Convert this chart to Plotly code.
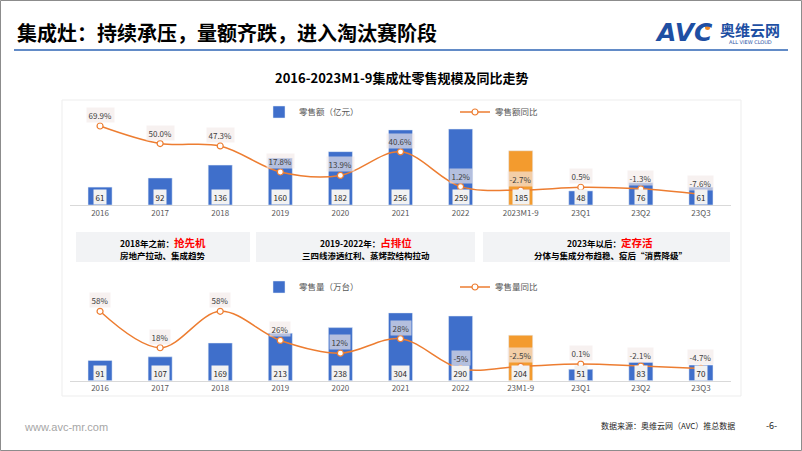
import plotly.graph_objects as go

W, H = 802, 451
def px(x): return x / W
def py(y): return 1 - y / H

# ---------------- data ----------------
cats_top = ['2016', '2017', '2018', '2019', '2020', '2021', '2022', '2023M1-9', '23Q1', '23Q2', '23Q3']
cats_bot = ['2016', '2017', '2018', '2019', '2020', '2021', '2022', '23M1-9', '23Q1', '23Q2', '23Q3']
sales_value = [61, 92, 136, 160, 182, 256, 259, 185, 48, 76, 61]            # 零售额（亿元）
sales_value_yoy = [69.9, 50.0, 47.3, 17.8, 13.9, 40.6, 1.2, -2.7, 0.5, -1.3, -7.6]  # %
sales_volume = [91, 107, 169, 213, 238, 304, 290, 204, 51, 83, 70]          # 零售量（万台）
sales_volume_yoy = [58, 18, 58, 26, 12, 28, -5, -2.5, 0.1, -2.1, -4.7]       # %
sales_volume_yoy_labels = ['58%', '18%', '58%', '26%', '12%', '28%', '-5%', '-2.5%', '0.1%', '-2.1%', '-4.7%']
highlight_idx = 7

stage_heads = ['2018年之前：', '2019-2022年：', '2023年以后：']
stage_keys = ['抢先机', '占排位', '定存活']
stage_notes = ['房地产拉动、集成趋势', '三四线渗透红利、蒸烤款结构拉动', '分体与集成分布趋稳、疫后“消费降级”']

BLUE = '#3F6FCB'
ORANGE_BAR = '#F39B2E'
ORANGE_LINE = '#ED7D31'
FONT = 'Noto Sans CJK SC'

bar_colors = [ORANGE_BAR if i == highlight_idx else BLUE for i in range(len(cats_top))]

fig = go.Figure()

# top chart
fig.add_trace(go.Bar(x=cats_top, y=sales_value, name='零售额（亿元）', marker_color=bar_colors,
                     width=0.4, xaxis='x', yaxis='y', legend='legend', hoverinfo='skip'))
fig.add_trace(go.Scatter(x=cats_top, y=sales_value_yoy, name='零售额同比', mode='lines+markers',
                         line=dict(color=ORANGE_LINE, width=1.5, shape='spline', smoothing=1.0),
                         marker=dict(symbol='circle', size=6, color='white',
                                     line=dict(color=ORANGE_LINE, width=1.2)),
                         xaxis='x', yaxis='y2', legend='legend', cliponaxis=False, hoverinfo='skip'))
# bottom chart
fig.add_trace(go.Bar(x=cats_bot, y=sales_volume, name='零售量（万台）', marker_color=bar_colors,
                     width=0.4, xaxis='x2', yaxis='y3', legend='legend2', hoverinfo='skip'))
fig.add_trace(go.Scatter(x=cats_bot, y=sales_volume_yoy, name='零售量同比', mode='lines+markers',
                         line=dict(color=ORANGE_LINE, width=1.5, shape='spline', smoothing=1.0),
                         marker=dict(symbol='circle', size=6, color='white',
                                     line=dict(color=ORANGE_LINE, width=1.2)),
                         xaxis='x2', yaxis='y4', legend='legend2', cliponaxis=False, hoverinfo='skip'))

annotations = []
# value labels (x given as category index)
for i, v in enumerate(sales_value):
    annotations.append(dict(x=i, y=0, xref='x', yref='y', yshift=8, text=str(v), showarrow=False,
                            font=dict(size=8, color='#262626', family=FONT), bgcolor='#F2F2F2',
                            borderpad=1.5, yanchor='middle'))
for i, v in enumerate(sales_volume):
    annotations.append(dict(x=i, y=0, xref='x2', yref='y3', yshift=8, text=str(v), showarrow=False,
                            font=dict(size=8, color='#262626', family=FONT), bgcolor='#F2F2F2',
                            borderpad=1.5, yanchor='middle'))
# yoy labels
for i, v in enumerate(sales_value_yoy):
    annotations.append(dict(x=i, y=v, xref='x', yref='y2', yshift=11, text=f'{v:.1f}%', showarrow=False,
                            font=dict(size=8, color='#404040', family=FONT),
                            bgcolor='rgba(242,234,232,0.65)', borderpad=1.5, yanchor='middle'))
for i, (v, t) in enumerate(zip(sales_volume_yoy, sales_volume_yoy_labels)):
    annotations.append(dict(x=i, y=v, xref='x2', yref='y4', yshift=11, text=t, showarrow=False,
                            font=dict(size=8, color='#404040', family=FONT),
                            bgcolor='rgba(242,234,232,0.65)', borderpad=1.5, yanchor='middle'))

# stage text boxes
box_x = [(76, 250), (256, 475), (483, 730)]
text_cx = [163, 366, 610]
for (x0, x1), cx, hd, key, note in zip(box_x, text_cx, stage_heads, stage_keys, stage_notes):
    annotations.append(dict(x=px(cx), y=py(242), xref='paper', yref='paper', xanchor='center', yanchor='middle',
                            text=f'<b>{hd}</b><b><span style="color:#FF0000;font-size:10.5px">{key}</span></b>',
                            showarrow=False, font=dict(size=8.5, color='#000000', family=FONT)))
    annotations.append(dict(x=px(cx), y=py(255), xref='paper', yref='paper', xanchor='center', yanchor='middle',
                            text=f'<b>{note}</b>', showarrow=False,
                            font=dict(size=8.5, color='#000000', family=FONT)))

# titles / texts
annotations += [
    dict(x=px(15), y=py(33), xref='paper', yref='paper', xanchor='left', yanchor='middle',
         text='<b>集成灶：持续承压，量额齐跌，进入淘汰赛阶段</b>', showarrow=False,
         font=dict(size=20, color='#000000', family=FONT)),
    dict(x=px(401), y=py(77), xref='paper', yref='paper', xanchor='center', yanchor='middle',
         text='<b>2016-2023M1-9集成灶零售规模及同比走势</b>', showarrow=False,
         font=dict(size=13, color='#000000', family=FONT)),
    # logo
    dict(x=px(684), y=py(33), xref='paper', yref='paper', xanchor='center', yanchor='middle',
         text='<b><i>AVC</i></b>', showarrow=False, font=dict(size=25, color='#1E4FA3', family='DejaVu Sans')),
    dict(x=px(750), y=py(29), xref='paper', yref='paper', xanchor='center', yanchor='middle',
         text='<b>奥维云网</b>', showarrow=False, font=dict(size=15, color='#1E4FA3', family=FONT)),
    dict(x=px(750), y=py(42), xref='paper', yref='paper', xanchor='center', yanchor='middle',
         text='ALL VIEW CLOUD', showarrow=False, font=dict(size=5, color='#1E4FA3', family='DejaVu Sans')),
    # footer
    dict(x=px(22), y=py(427), xref='paper', yref='paper', xanchor='left', yanchor='middle',
         text='www.avc-mr.com', showarrow=False, font=dict(size=11, color='#A6A6A6', family='Liberation Sans')),
    dict(x=px(737), y=py(425), xref='paper', yref='paper', xanchor='right', yanchor='middle',
         text='数据来源：奥维云网（AVC）推总数据', showarrow=False, font=dict(size=8, color='#262626', family=FONT)),
    dict(x=px(771), y=py(425), xref='paper', yref='paper', xanchor='center', yanchor='middle',
         text='-6-', showarrow=False, font=dict(size=9, color='#262626', family=FONT)),
]

shapes = [
    # outer border
    dict(type='rect', xref='paper', yref='paper', x0=px(0.5), x1=px(801.5), y0=py(450.5), y1=py(0.5),
         line=dict(color='#8C8C8C', width=1), fillcolor='rgba(0,0,0,0)', layer='below'),
    # title underline
    dict(type='line', xref='paper', yref='paper', x0=px(14), x1=px(788), y0=py(50), y1=py(50),
         line=dict(color='#2E64B4', width=1.5)),
    # panel
    dict(type='rect', xref='paper', yref='paper', x0=px(62), x1=px(741), y0=py(396), y1=py(100),
         line=dict(color='#EDEDED', width=1), fillcolor='white', layer='below'),
    # orange dot in logo
    dict(type='circle', xref='paper', yref='paper', x0=px(705), x1=px(710), y0=py(30), y1=py(25),
         line=dict(width=0), fillcolor='#F08A24'),
]
for x0, x1 in box_x:
    shapes.append(dict(type='rect', xref='paper', yref='paper', x0=px(x0), x1=px(x1), y0=py(262), y1=py(232),
                       line=dict(width=0), fillcolor='#F2F3F5', layer='below'))

xdom = [px(70), px(731)]
ncat = len(cats_top)
axis_common = dict(type='category', range=[-0.5, ncat - 0.5], showline=True, linecolor='#D9D9D9',
                   linewidth=1, ticks='', showgrid=False, zeroline=False,
                   tickfont=dict(size=8, color='#595959', family=FONT), fixedrange=True)

fig.update_layout(
    width=W, height=H, margin=dict(l=0, r=0, t=0, b=0),
    paper_bgcolor='white', plot_bgcolor='rgba(0,0,0,0)',
    font=dict(family=FONT),
    xaxis=dict(domain=xdom, anchor='y', **axis_common),
    yaxis=dict(domain=[py(205), py(105)], range=[0, 341], visible=False, fixedrange=True),
    yaxis2=dict(overlaying='y', range=[-19.6, 93.7], visible=False, fixedrange=True),
    xaxis2=dict(domain=xdom, anchor='y3', **axis_common),
    yaxis3=dict(domain=[py(380.7), py(290)], range=[0, 406.7], visible=False, fixedrange=True),
    yaxis4=dict(overlaying='y3', range=[-18.2, 81.4], visible=False, fixedrange=True),
    legend=dict(orientation='h', x=px(259), y=py(112), xanchor='left', yanchor='middle',
                entrywidth=151, entrywidthmode='pixels', font=dict(size=8.5, color='#595959', family=FONT),
                bgcolor='rgba(0,0,0,0)', itemclick=False, itemdoubleclick=False),
    legend2=dict(orientation='h', x=px(259), y=py(287), xanchor='left', yanchor='middle',
                 entrywidth=151, entrywidthmode='pixels', font=dict(size=8.5, color='#595959', family=FONT),
                 bgcolor='rgba(0,0,0,0)', itemclick=False, itemdoubleclick=False),
    annotations=annotations,
    shapes=shapes,
    bargap=0.6,
)

fig.write_html('out.html', config={'displayModeBar': False},
               post_script="document.body.style.margin='0';document.body.style.padding='0';"
                           "document.body.style.overflow='hidden';")
